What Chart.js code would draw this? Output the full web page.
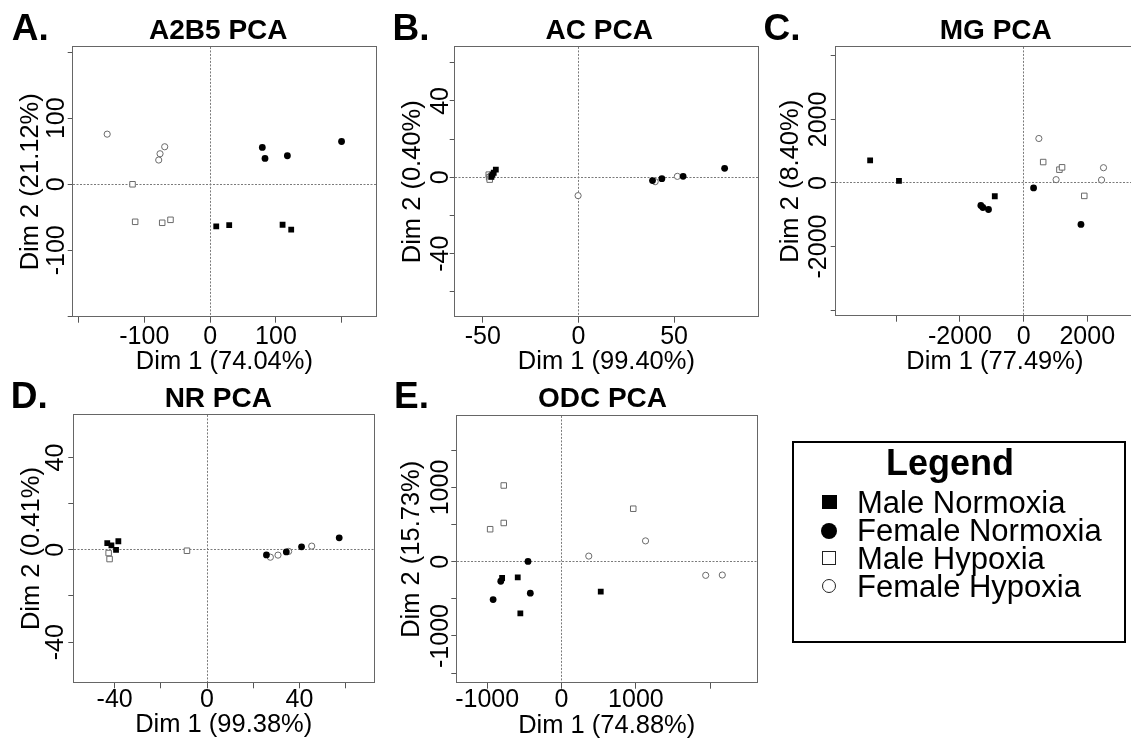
<!DOCTYPE html>
<html><head><meta charset="utf-8">
<script src="https://cdn.jsdelivr.net/npm/chart.js@4.4.1/dist/chart.umd.min.js"></script>
<style>
html,body{margin:0;padding:0;background:#fff;}
body{width:1131px;height:738px;position:relative;overflow:hidden;font-family:"Liberation Sans",Arial,Helvetica,sans-serif;color:#000;}
canvas{position:absolute;}
.t{position:absolute;line-height:1;white-space:nowrap;}
.b{font-weight:bold;}
.ctr{text-align:center;width:400px;}
.mk{position:absolute;box-sizing:border-box;}
#legendBox{position:absolute;left:792px;top:441px;width:334px;height:202px;box-sizing:border-box;border:2px solid #000;}
</style></head><body>
<div id="legendBox"></div>
<script>
// ---------------- DATA ----------------
const groupNames = ["Male Normoxia", "Female Normoxia", "Male Hypoxia", "Female Hypoxia"];

// A. A2B5 PCA
const aMaleNormoxia   = [[9.3,-63.8],[29.0,-61.8],[110.1,-61.3],[123.2,-68.8]];
const aFemaleNormoxia = [[79.3,55.8],[83.4,39.2],[117.4,43.2],[199.7,64.8]];
const aMaleHypoxia    = [[-117.9,0],[-113.9,-56.8],[-72.8,-58.3],[-60.2,-53.8]];
const aFemaleHypoxia  = [[-156.4,75.9],[-69.0,56.8],[-76.1,46.2],[-78.1,36.7]];
const aXRange = [-208.8, 252.2], aYRange = [-200.5, 208];
const aXTicks = [-200,-100,0,100,200], aXLabels = [-100,0,100];
const aYTicks = [-200,-100,0,100,200], aYLabels = [-100,0,100];

// B. AC PCA
const bMaleNormoxia   = [[-43.2,4.0],[-44.3,2.4],[-45.0,1.4],[-45.5,0.3]];
const bFemaleNormoxia = [[38.7,-1.7],[43.6,-0.7],[54.7,0.5],[76.4,4.7]];
const bMaleHypoxia    = [[-46.9,1.4],[-46.7,0],[-46.4,-1.2],[-45.8,0.5]];
const bFemaleHypoxia  = [[40.1,-2.3],[51.7,0.5],[-0.2,-9.6]];
const bXRange = [-64.7, 93.9], bYRange = [-73.0, 68.3];
const bXTicks = [-50,0,50], bXLabels = [-50,0,50];
const bYTicks = [-60,-40,-20,0,20,40,60], bYLabels = [-40,0,40];

// C. MG PCA
const cMaleNormoxia   = [[-4823,710],[-3917,63],[-906,-418]];
const cFemaleNormoxia = [[-1344,-710],[-1281,-773],[-1104,-836],[313,-157],[1802,-1305]];
const cMaleHypoxia    = [[615,658],[1125,418],[1208,491],[1906,-407]];
const cFemaleHypoxia  = [[479,1399],[1021,104],[2510,480],[2448,94]];
const cXRange = [-5905, 4100], cYRange = [-4177, 4281];
const cXTicks = [-4000,-2000,0,2000,4000], cXLabels = [-2000,0,2000];
const cYTicks = [-4000,-2000,0,2000,4000], cYLabels = [-2000,0,2000];

// D. NR PCA
const dMaleNormoxia   = [[-43.2,2.9],[-41.4,1.9],[-39.4,0],[-38.4,3.7]];
const dFemaleNormoxia = [[25.7,-2.2],[34.3,-0.9],[40.9,1.3],[57.2,5.2]];
const dMaleHypoxia    = [[-42.6,-1.4],[-42.2,-4.0],[-8.7,-0.4]];
const dFemaleHypoxia  = [[27.4,-3.2],[30.7,-2.3],[35.3,-0.7],[45.3,1.6]];
const dXRange = [-57.9, 72.3], dYRange = [-57.4, 58.45];
const dXTicks = [-40,-20,0,20,40,60], dXLabels = [-40,0,40];
const dYTicks = [-40,-20,0,20,40], dYLabels = [-40,0,40];

// E. ODC PCA
const eMaleNormoxia   = [[-799,-219],[-589,-210],[-554,-696],[527,-402]];
const eFemaleNormoxia = [[-451,4],[-817,-263],[-420,-424],[-920,-509]];
const eMaleHypoxia    = [[-777,1027],[-777,522],[-960,438],[964,714]];
const eFemaleHypoxia  = [[366,76],[1129,281],[1938,-183],[2161,-179]];
const eXRange = [-1415, 2629], eYRange = [-1629, 1964];
const eXTicks = [-1000,0,1000,2000], eXLabels = [-1000,0,1000];
const eYTicks = [-1500,-1000,-500,0,500,1000,1500], eYLabels = [-1000,0,1000];

const panelLetters = ["A.", "B.", "C.", "D.", "E."];
const panelTitles = ["A2B5 PCA", "AC PCA", "MG PCA", "NR PCA", "ODC PCA"];
const xTitles = ["Dim 1 (74.04%)", "Dim 1 (99.40%)", "Dim 1 (77.49%)", "Dim 1 (99.38%)", "Dim 1 (74.88%)"];
const yTitles = ["Dim 2 (21.12%)", "Dim 2 (0.40%)", "Dim 2 (8.40%)", "Dim 2 (0.41%)", "Dim 2 (15.73%)"];

// ---------------- STYLE / LAYOUT ----------------
const FONT = '"Liberation Sans", Arial, Helvetica, sans-serif';
Chart.defaults.font.family = FONT;
Chart.defaults.color = '#000';

const groupStyles = [
  {pointStyle:'rect',   pointRadius:4.1, pointBackgroundColor:'#000', pointBorderColor:'#000', pointBorderWidth:0},
  {pointStyle:'circle', pointRadius:3.4, pointBackgroundColor:'#000', pointBorderColor:'#000', pointBorderWidth:0},
  {pointStyle:'rect',   pointRadius:3.9, pointBackgroundColor:'#fff', pointBorderColor:'#6a6a6a', pointBorderWidth:1},
  {pointStyle:'circle', pointRadius:3.1, pointBackgroundColor:'#fff', pointBorderColor:'#6a6a6a', pointBorderWidth:1}
];

const panels = [
  {series:[aMaleNormoxia,aFemaleNormoxia,aMaleHypoxia,aFemaleHypoxia], xr:aXRange, yr:aYRange, xt:aXTicks, xl:aXLabels, yt:aYTicks, yl:aYLabels,
   g:{L:72.7,T:45.7,R:377.6,B:316.7,yTickOff:15.2,yTitleOff:42,xTickOff:20,xTitleOff:45.5}, letter:{x:11.7,base:40}, title:{cx:218.3,base:39.5}},
  {series:[bMaleNormoxia,bFemaleNormoxia,bMaleHypoxia,bFemaleHypoxia], xr:bXRange, yr:bYRange, xt:bXTicks, xl:bXLabels, yt:bYTicks, yl:bYLabels,
   g:{L:454.7,T:45.7,R:759.3,B:316.7,yTickOff:14,yTitleOff:42,xTickOff:20,xTitleOff:45.5}, letter:{x:392.5,base:40}, title:{cx:599.2,base:39.5}},
  {series:[cMaleNormoxia,cFemaleNormoxia,cMaleHypoxia,cFemaleHypoxia], xr:cXRange, yr:cYRange, xt:cXTicks, xl:cXLabels, yt:cYTicks, yl:cYLabels,
   g:{L:835.7,T:45.7,R:1156,B:315.7,yTickOff:17,yTitleOff:45,xTickOff:21,xTitleOff:46.5}, letter:{x:763.5,base:40}, title:{cx:995.8,base:39.5}},
  {series:[dMaleNormoxia,dFemaleNormoxia,dMaleHypoxia,dFemaleHypoxia], xr:dXRange, yr:dYRange, xt:dXTicks, xl:dXLabels, yt:dYTicks, yl:dYLabels,
   g:{L:73.3,T:413.3,R:376,B:682.3,yTickOff:17,yTitleOff:41.7,xTickOff:17.5,xTitleOff:43}, letter:{x:10.7,base:408.3}, title:{cx:218.3,base:408}},
  {series:[eMaleNormoxia,eFemaleNormoxia,eMaleHypoxia,eFemaleHypoxia], xr:eXRange, yr:eYRange, xt:eXTicks, xl:eXLabels, yt:eYTicks, yl:eYLabels,
   g:{L:456.3,T:414.3,R:758.3,B:682.7,yTickOff:15.5,yTitleOff:44.7,xTickOff:17.5,xTitleOff:43}, letter:{x:394,base:408.3}, title:{cx:602.5,base:408}}
];

const TICK_FONT = 25, TITLE_FONT = 25.5, TL_X = 6, TL_Y = 5;
const mctx = document.createElement('canvas').getContext('2d');
function widest(labels, size) {
  mctx.font = size + 'px ' + FONT;
  return Math.max(0, ...labels.map(v => mctx.measureText(String(v)).width));
}
const align = (p) => Math.round(p - 0.5) + 0.5;

const boxPlugin = {
  id: 'rbox',
  beforeDatasetsDraw(chart) {
    const {ctx, chartArea: a} = chart;
    ctx.save();
    ctx.strokeStyle = '#666';
    ctx.lineWidth = 1;
    const l = align(a.left), t = align(a.top), r = align(a.right), b = align(a.bottom);
    ctx.strokeRect(l, t, r - l, b - t);
    ctx.restore();
  }
};

function addText(txt, cls, left, top, size, extra) {
  const d = document.createElement('div');
  d.className = 't ' + cls;
  d.textContent = txt;
  d.style.left = left + 'px';
  d.style.top = top + 'px';
  d.style.fontSize = size + 'px';
  if (extra) Object.assign(d.style, extra);
  document.body.appendChild(d);
  return d;
}
const ASC = 0.8465; // baseline offset for line-height:1 in Liberation Sans

panels.forEach((p, i) => {
  const g = p.g;
  const Wy = g.yTitleOff + TITLE_FONT / 2;
  const Hx = g.xTitleOff + TITLE_FONT / 2;
  const left = Math.floor(g.L - Wy - 2);
  const top = Math.floor(g.T - 3);
  const right = Math.ceil(g.R + 3);
  const bottom = Math.ceil(g.B + Hx + 1);
  const cv = document.createElement('canvas');
  cv.width = right - left; cv.height = bottom - top;
  cv.style.left = left + 'px'; cv.style.top = top + 'px';
  document.body.appendChild(cv);

  const padY = g.yTickOff - TL_Y - widest(p.yl, TICK_FONT) / 2;
  const padX = g.xTickOff - TL_X - TICK_FONT / 2;
  const zeroLine = (c) => (c.tick && c.tick.value === 0) ? '#7a7a7a' : 'rgba(0,0,0,0)';
  const resetPad = (s) => { s.paddingLeft = 0; s.paddingRight = 0; s.paddingTop = 0; s.paddingBottom = 0; };

  new Chart(cv, {
    type: 'scatter',
    data: {
      datasets: p.series.map((s, k) => Object.assign({
        label: groupNames[k],
        data: s.map(([x, y]) => ({x, y})),
        showLine: false,
        pointHoverRadius: groupStyles[k].pointRadius
      }, groupStyles[k]))
    },
    options: {
      responsive: false,
      animation: false,
      events: [],
      layout: {padding: {left: g.L - Wy - left, top: g.T - top, right: right - g.R, bottom: bottom - (g.B + Hx)}},
      plugins: {legend: {display: false}, tooltip: {enabled: false}},
      scales: {
        x: {
          type: 'linear', position: 'bottom', bounds: 'data',
          min: p.xr[0], max: p.xr[1],
          afterBuildTicks: (s) => { s.ticks = p.xt.map(v => ({value: v})); },
          afterFit: (s) => { s.height = Hx; resetPad(s); },
          ticks: {autoSkip: false, maxRotation: 0, minRotation: 0, padding: padX,
                  font: {size: TICK_FONT, lineHeight: 1}, color: '#000',
                  callback: (v) => p.xl.includes(v) ? String(v) : ''},
          grid: {drawOnChartArea: true, drawTicks: true, tickLength: TL_X, color: zeroLine, tickColor: '#555', lineWidth: 1},
          border: {display: true, color: '#666', width: 1, dash: [2, 1.5]},
          title: {display: true, text: xTitles[i], font: {size: TITLE_FONT, lineHeight: 1}, padding: 0, color: '#000'}
        },
        y: {
          type: 'linear', position: 'left', bounds: 'data',
          min: p.yr[0], max: p.yr[1],
          afterBuildTicks: (s) => { s.ticks = p.yt.map(v => ({value: v})); },
          afterFit: (s) => { s.width = Wy; resetPad(s); },
          ticks: {autoSkip: false, minRotation: 90, maxRotation: 90, crossAlign: 'center', padding: padY,
                  font: {size: TICK_FONT, lineHeight: 1}, color: '#000',
                  callback: (v) => p.yl.includes(v) ? String(v) : ''},
          grid: {drawOnChartArea: true, drawTicks: true, tickLength: TL_Y, color: zeroLine, tickColor: '#555', lineWidth: 1},
          border: {display: true, color: '#666', width: 1, dash: [2, 1.5]},
          title: {display: true, text: yTitles[i], font: {size: TITLE_FONT, lineHeight: 1}, padding: 0, color: '#000'}
        }
      }
    },
    plugins: [boxPlugin]
  });

  addText(panelLetters[i], 'b', p.letter.x, p.letter.base - ASC * 37, 37);
  addText(panelTitles[i], 'b ctr', p.title.cx - 200, p.title.base - ASC * 28, 28);
});

// ---------------- LEGEND ----------------
addText('Legend', 'b ctr', 950 - 200, 475 - ASC * 36, 36);
const legBase = [513.3, 541.5, 569.3, 597];
const legMarkY = [502.2, 530.5, 557.8, 585.8];
const mkStyles = [
  {w:14.5, css:{background:'#000'}},
  {w:16, css:{background:'#000', borderRadius:'50%'}},
  {w:14, css:{background:'#fff', border:'1.3px solid #222'}},
  {w:14, css:{background:'#fff', border:'1.3px solid #222', borderRadius:'50%'}}
];
groupNames.forEach((name, k) => {
  const m = document.createElement('div');
  m.className = 'mk';
  const s = mkStyles[k];
  Object.assign(m.style, {left: (829.3 - s.w / 2) + 'px', top: (legMarkY[k] - s.w / 2) + 'px', width: s.w + 'px', height: s.w + 'px'}, s.css);
  document.body.appendChild(m);
  addText(name, '', 857, legBase[k] - ASC * 31, 31);
});
</script>
</body></html>
